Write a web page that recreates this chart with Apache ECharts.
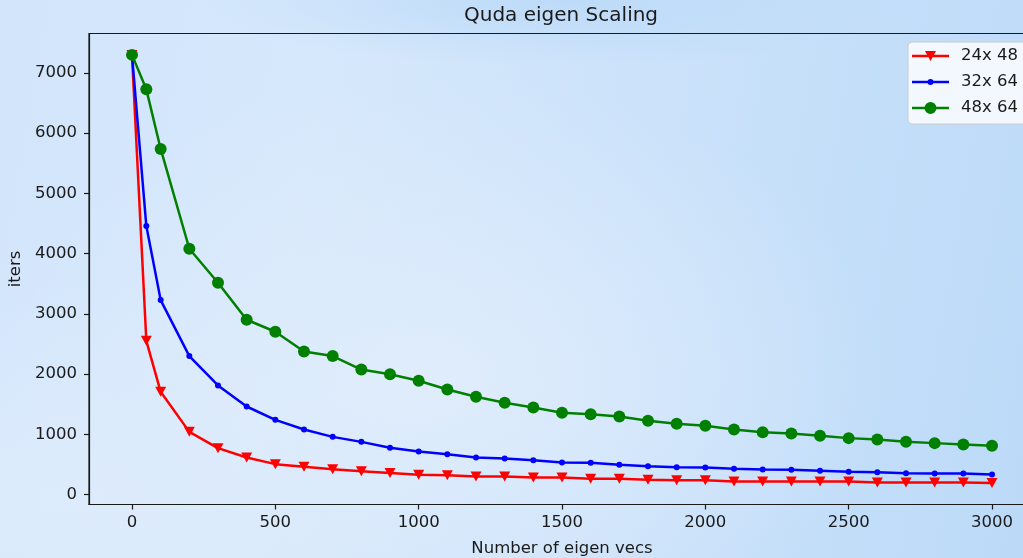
<!DOCTYPE html>
<html>
<head>
<meta charset="utf-8">
<script src="https://cdn.jsdelivr.net/npm/echarts@6/dist/echarts.min.js"></script>
<style>
html, body { margin:0; padding:0; width:1023px; height:558px; overflow:hidden; }
body {
  background:
    radial-gradient(ellipse 45% 55% at 42% 68%, rgba(224,237,252,0.95) 0%, rgba(224,237,252,0) 100%),
    radial-gradient(ellipse 40% 40% at 5% 90%, rgba(222,236,252,0.9) 0%, rgba(222,236,252,0) 100%),
    radial-gradient(ellipse 35% 12% at 55% 0%, rgba(184,216,248,0.8) 0%, rgba(184,216,248,0) 100%),
    linear-gradient(100deg, #d2e5fb 0%, #d6e8fb 30%, #cbe2fa 60%, #bcdaf8 100%);
}
#chart { width:1023px; height:558px; }
</style>
</head>
<body>
<div id="chart"></div>
<script>
const xValues = [0,50,100,200,300,400,500,600,700,800,900,1000,1100,1200,1300,1400,1500,1600,1700,1800,1900,2000,2100,2200,2300,2400,2500,2600,2700,2800,2900,3000];
const series24x48 = [7300,2553,1706,1041,770,615,505,460,422,389,358,327,322,299,299,282,282,261,261,244,239,239,216,216,216,216,216,199,199,199,199,194];
const series32x64 = [7300,4458,3229,2299,1811,1462,1241,1080,958,875,776,714,671,615,598,571,532,527,493,472,455,449,427,415,410,394,377,372,355,349,349,332];
const series48x64 = [7300,6728,5738,4081,3517,2902,2703,2375,2299,2076,1996,1889,1744,1623,1523,1445,1357,1335,1296,1224,1174,1141,1080,1036,1013,975,937,914,875,854,831,809];
const seriesNames = ['24x 48','32x 64','48x 64'];
const xTicks = [0,500,1000,1500,2000,2500,3000];
const yTicks = [0,1000,2000,3000,4000,5000,6000,7000];

const pairs = arr => arr.map((v, i) => [xValues[i], v]);
const FONT = 'DejaVu Sans';
const TXT = '#1a1a1a';

// legend icons: line + marker, drawn as one filled path (all sub-paths clockwise)
const LINE = 'M0 5.75 H37 V8.25 H0 Z M44 7 L44 7 ';
const legendIcons = [
  'path://' + LINE + 'M13 2 L24 2 L18.5 12 Z',
  'path://' + LINE + 'M15.5 7 A3 3 0 1 1 21.5 7 A3 3 0 1 1 15.5 7 Z',
  'path://' + LINE + 'M12.5 7 A6 6 0 1 1 24.5 7 A6 6 0 1 1 12.5 7 Z'
];

const chart = echarts.init(document.getElementById('chart'), null, {renderer:'canvas'});
chart.setOption({
  backgroundColor: 'transparent',
  animation: false,
  textStyle: { fontFamily: FONT },
  title: {
    text: 'Quda eigen Scaling',
    left: 464, top: 6, padding: 0,
    textStyle: { fontFamily: FONT, fontSize: 20, fontWeight: 'normal', color: TXT }
  },
  legend: {
    orient: 'vertical',
    left: 908, top: 42,
    padding: [5, 40, 7, 4],
    itemWidth: 44, itemHeight: 14, itemGap: 8,
    backgroundColor: 'rgba(255,255,255,0.8)',
    borderColor: '#cccccc', borderWidth: 1, borderRadius: 4,
    textStyle: { fontFamily: FONT, fontSize: 16.5, color: TXT, lineHeight: 18 },
    data: seriesNames.map((n, i) => ({ name: n, icon: legendIcons[i] }))
  },
  grid: {
    left: 89, top: 33.5, width: 946, height: 471,
    outerBoundsMode: 'none',
    show: true, borderColor: '#1a1a1a', borderWidth: 1.2, backgroundColor: 'transparent',
    containLabel: false
  },
  xAxis: {
    type: 'value', min: -150, max: 3150,
    name: 'Number of eigen vecs', nameLocation: 'middle', nameGap: 36,
    nameTextStyle: { fontFamily: FONT, fontSize: 16.5, color: TXT },
    axisLine: { show: true, onZero: false, lineStyle: { color: '#1a1a1a', width: 1.2 } },
    axisTick: { show: true, length: 5, lineStyle: { color: '#1a1a1a', width: 1.2 }, customValues: xTicks },
    axisLabel: { fontFamily: FONT, fontSize: 16.5, color: TXT, margin: 10, customValues: xTicks, formatter: v => String(v) },
    splitLine: { show: false }
  },
  yAxis: {
    type: 'value', min: -165, max: 7655,
    name: 'iters', nameLocation: 'middle', nameGap: 60, nameRotate: 90,
    nameTextStyle: { fontFamily: FONT, fontSize: 16.5, color: TXT },
    axisLine: { show: true, onZero: false, lineStyle: { color: '#1a1a1a', width: 1.2 } },
    axisTick: { show: true, length: 5, lineStyle: { color: '#1a1a1a', width: 1.2 }, customValues: yTicks },
    axisLabel: { fontFamily: FONT, fontSize: 16.5, color: TXT, margin: 12, customValues: yTicks, formatter: v => String(v) },
    splitLine: { show: false }
  },
  series: [
    {
      name: seriesNames[0], type: 'line', data: pairs(series24x48),
      symbol: 'triangle', symbolRotate: 180, symbolSize: [11, 10],
      lineStyle: { color: '#ff0000', width: 2.5 }, itemStyle: { color: '#ff0000' },
      z: 2
    },
    {
      name: seriesNames[1], type: 'line', data: pairs(series32x64),
      symbol: 'circle', symbolSize: 6,
      lineStyle: { color: '#0000ff', width: 2.5 }, itemStyle: { color: '#0000ff' },
      z: 3
    },
    {
      name: seriesNames[2], type: 'line', data: pairs(series48x64),
      symbol: 'circle', symbolSize: 12,
      lineStyle: { color: '#008000', width: 2.5 }, itemStyle: { color: '#008000' },
      z: 4
    }
  ]
});
</script>
</body>
</html>
